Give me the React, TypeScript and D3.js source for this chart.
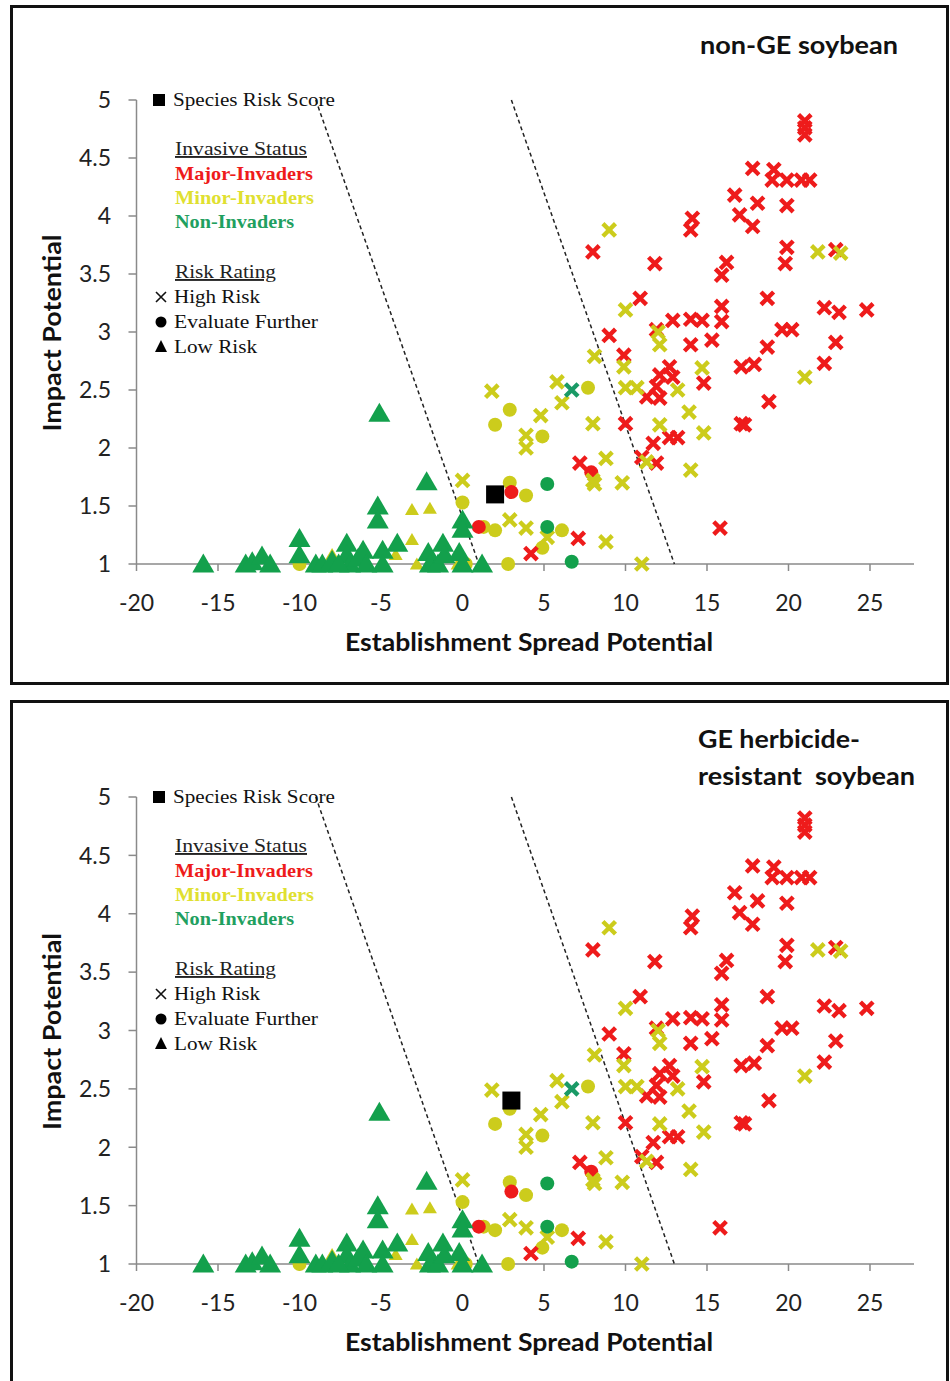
import React from "react";
import * as d3 from "d3";

type Pt = [number, number];

// Major-Invaders, High Risk (red crosses)
const majorHigh: Pt[] = [
  [21, 4.82], [21, 4.76], [21, 4.7], [17.8, 4.41], [19.1, 4.4], [19.0, 4.31], [19.9, 4.31],
  [20.8, 4.31], [21.3, 4.31], [16.7, 4.18], [18.1, 4.11], [19.9, 4.09], [17.0, 4.01],
  [17.8, 3.91], [14.1, 3.98], [14.0, 3.88], [8.0, 3.69], [19.9, 3.73], [19.8, 3.59],
  [22.9, 3.71], [11.8, 3.59], [16.2, 3.6], [15.9, 3.49], [10.9, 3.29], [18.7, 3.29],
  [22.2, 3.21], [23.1, 3.17], [24.8, 3.19], [15.9, 3.22], [15.9, 3.09], [12.9, 3.1],
  [14.0, 3.11], [14.7, 3.1], [11.9, 3.02], [19.6, 3.02], [20.2, 3.02], [9.0, 2.97],
  [14.0, 2.89], [15.3, 2.93], [18.7, 2.87], [22.9, 2.91], [9.9, 2.8], [12.7, 2.7],
  [12.9, 2.61], [12.1, 2.63], [11.9, 2.53], [12.1, 2.43], [11.3, 2.44], [14.8, 2.56],
  [17.1, 2.7], [17.9, 2.72], [22.2, 2.73], [18.8, 2.4], [10.0, 2.21], [17.1, 2.21],
  [17.3, 2.2], [11.0, 1.92], [11.9, 1.87], [11.7, 2.04], [12.7, 2.09], [13.2, 2.09],
  [15.8, 1.31], [7.2, 1.87], [7.1, 1.22], [4.2, 1.09],
];

// Minor-Invaders, High Risk (yellow crosses)
const minorHigh: Pt[] = [
  [9.0, 3.88], [21.8, 3.69], [23.2, 3.68], [10.0, 3.19], [12.0, 3.0], [12.1, 2.89],
  [8.1, 2.79], [9.9, 2.7], [14.7, 2.69], [21.0, 2.61], [10.0, 2.52], [10.7, 2.52],
  [13.2, 2.5], [13.9, 2.31], [8.0, 2.21], [12.1, 2.2], [14.8, 2.13], [14.0, 1.81],
  [11.3, 1.88], [8.8, 1.91], [8.0, 1.72], [8.1, 1.69], [9.8, 1.7], [8.8, 1.19],
  [11.0, 1.0], [6.1, 2.39], [5.8, 2.57], [4.8, 2.28], [3.9, 2.11], [3.9, 2.0],
  [1.8, 2.49], [2.9, 1.38], [3.9, 1.31], [0, 1.72], [5.2, 1.23],
];

// Non-Invaders, High Risk (green crosses)
const nonHigh: Pt[] = [[6.7, 2.5]];

// Evaluate Further (circles)
const majorEval: Pt[] = [[7.9, 1.79], [3.0, 1.62], [1.0, 1.32]];
const minorEval: Pt[] = [
  [7.7, 2.52], [2.9, 2.33], [2.0, 2.2], [4.9, 2.1], [2.9, 1.7], [3.9, 1.59], [0, 1.53],
  [1.3, 1.32], [2.0, 1.29], [6.1, 1.29], [4.9, 1.14], [2.8, 1.0], [-10.0, 1.0], [0.2, 1.0],
];
const nonEval: Pt[] = [[5.2, 1.69], [5.2, 1.32], [6.7, 1.02]];

// Low Risk (triangles)
const minorLow: Pt[] = [
  [-3.1, 1.47], [-2.0, 1.48], [-3.1, 1.21], [-2.8, 1.0], [-8.0, 1.08], [-4.1, 1.08], [-0.3, 1.0],
];
const nonLow: Pt[] = [
  [-15.9, 1.0], [-13.3, 1.0], [-12.9, 1.02], [-12.3, 1.07], [-11.8, 1.0], [-10.0, 1.22],
  [-10.0, 1.08], [-9.0, 1.0], [-8.6, 1.0], [-8.0, 1.03], [-7.1, 1.18], [-7.1, 1.08],
  [-6.9, 1.0], [-7.6, 1.0], [-6.4, 1.05], [-6.1, 1.12], [-5.9, 1.0], [-5.1, 2.3],
  [-5.2, 1.5], [-5.2, 1.38], [-4.9, 1.12], [-4.9, 1.0], [-4.0, 1.18], [-2.2, 1.71],
  [-2.1, 1.1], [-2.0, 1.0], [-1.5, 1.0], [-1.2, 1.18], [-1.1, 1.08], [-0.2, 1.1],
  [0, 1.0], [0, 1.38], [0, 1.3], [1.2, 1.0],
];

const riskScoreTop: Pt = [2, 1.6];
const riskScoreBottom: Pt = [3, 2.4];

// threshold lines
const thresholds: [Pt, Pt][] = [
  [[-9, 5], [1, 1]],
  [[3, 5], [13, 1]],
];

const xTicks = [-20, -15, -10, -5, 0, 5, 10, 15, 20, 25];
const yTicks = [1, 1.5, 2, 2.5, 3, 3.5, 4, 4.5, 5];

const RED = "#ee1b1b";
const YEL = "#cccc1c";
const GRN = "#13a04c";
const AXIS = "#8a8a8a";
const SANS = "Lato, 'Open Sans', sans-serif";
const SERIF = "'Liberation Serif', 'DejaVu Serif', serif";

function Cross({ x, y, color }: { x: number; y: number; color: string }) {
  const s = 6.3;
  return (
    <path
      d={`M${x - s},${y - s}L${x + s},${y + s}M${x - s},${y + s}L${x + s},${y - s}`}
      stroke={color}
      strokeWidth={4.4}
      fill="none"
    />
  );
}

function Tri({ x, y, color, w, h }: { x: number; y: number; color: string; w: number; h: number }) {
  return (
    <path
      d={`M${x},${y - h * 0.55}L${x + w / 2},${y + h * 0.45}L${x - w / 2},${y + h * 0.45}Z`}
      fill={color}
    />
  );
}

function Panel({ y5, y1, risk, title }: { y5: number; y1: number; risk: Pt; title: [string, number][] }) {
  const x = d3.scaleLinear().domain([-20, 27.7]).range([136.5, 914]);
  const y = d3.scaleLinear().domain([1, 5]).range([y1, y5]);
  const line = d3.line<Pt>().x((d) => x(d[0])).y((d) => y(d[1]));
  const lx = 152;
  const ly = y5;
  const stretch = { lengthAdjust: "spacingAndGlyphs" as const };

  return (
    <g>
      {/* axes */}
      <line x1={x(-20)} x2={x(-20)} y1={y(1)} y2={y(5)} stroke={AXIS} strokeWidth={1.5} />
      <line x1={x(-20)} x2={x(27.7)} y1={y(1)} y2={y(1)} stroke={AXIS} strokeWidth={1.5} />
      {yTicks.map((t) => (
        <g key={"y" + t}>
          <line x1={x(-20) - 8} x2={x(-20)} y1={y(t)} y2={y(t)} stroke={AXIS} strokeWidth={1.5} />
          <text x={111} y={y(t)} dy="0.36em" textAnchor="end" fontFamily={SANS} fontSize={23} fill="#222">
            {t}
          </text>
        </g>
      ))}
      {xTicks.map((t) => (
        <g key={"x" + t}>
          <line x1={x(t)} x2={x(t)} y1={y(1)} y2={y(1) + 7} stroke={AXIS} strokeWidth={1.5} />
          <text x={x(t)} y={y(1) + 47} textAnchor="middle" fontFamily={SANS} fontSize={23} fill="#222">
            {t}
          </text>
        </g>
      ))}
      <text
        transform={`translate(61,${(y(1) + y(5)) / 2 + 1}) rotate(-90)`}
        textAnchor="middle"
        fontFamily={SANS}
        fontWeight="bold"
        fontSize={24}
        fill="#111"
        textLength={197}
        {...stretch}
      >
        Impact Potential
      </text>
      <text
        x={345}
        y={y(1) + 87}
        fontFamily={SANS}
        fontWeight="bold"
        fontSize={24}
        fill="#111"
        textLength={368}
        {...stretch}
      >
        Establishment Spread Potential
      </text>

      {/* title */}
      {title.map(([t, len], i) => (
        <text
          key={t}
          x={title.length === 1 ? 700 : 698}
          y={title.length === 1 ? y5 - 46 : y5 - 49 + i * 37}
          fontFamily={SANS}
          fontWeight="bold"
          fontSize={24}
          fill="#111"
          textLength={len}
          {...stretch}
          style={{ whiteSpace: "pre" }}
        >
          {t}
        </text>
      ))}

      {/* threshold lines */}
      {thresholds.map((seg, i) => (
        <path key={i} d={line(seg) || ""} stroke="#222" strokeWidth={1.5} strokeDasharray="4,3" fill="none" />
      ))}

      {/* points */}
      {minorEval.map((d, i) => (
        <circle key={"me" + i} cx={x(d[0])} cy={y(d[1])} r={7} fill={YEL} />
      ))}
      {minorLow.map((d, i) => (
        <Tri key={"ml" + i} x={x(d[0])} y={y(d[1])} color={YEL} w={14} h={12} />
      ))}
      {majorEval.map((d, i) => (
        <circle key={"re" + i} cx={x(d[0])} cy={y(d[1])} r={7} fill={RED} />
      ))}
      {majorHigh.map((d, i) => (
        <Cross key={"rh" + i} x={x(d[0])} y={y(d[1])} color={RED} />
      ))}
      {minorHigh.map((d, i) => (
        <Cross key={"mh" + i} x={x(d[0])} y={y(d[1])} color={YEL} />
      ))}
      {nonEval.map((d, i) => (
        <circle key={"ge" + i} cx={x(d[0])} cy={y(d[1])} r={7} fill={GRN} />
      ))}
      {nonHigh.map((d, i) => (
        <Cross key={"gh" + i} x={x(d[0])} y={y(d[1])} color="#1a9a66" />
      ))}
      {nonLow.map((d, i) => (
        <Tri key={"gl" + i} x={x(d[0])} y={y(d[1])} color={GRN} w={22} h={19} />
      ))}
      <rect x={x(risk[0]) - 9} y={y(risk[1]) - 9} width={18} height={18} fill="#000" />

      {/* legend */}
      <g fontFamily={SERIF} fontSize={19}>
        <rect x={lx + 1} y={ly - 6} width={12} height={12} fill="#000" />
        <text x={lx + 21} y={ly} dy="0.33em" fill="#111" textLength={162} {...stretch}>Species Risk Score</text>
        <text x={lx + 23} y={ly + 55} fill="#222" textDecoration="underline" textLength={132} {...stretch}>Invasive Status</text>
        <text x={lx + 23} y={ly + 80} fill={RED} fontWeight="bold" textLength={138} {...stretch}>Major-Invaders</text>
        <text x={lx + 23} y={ly + 104} fill="#e0e030" fontWeight="bold" textLength={139} {...stretch}>Minor-Invaders</text>
        <text x={lx + 23} y={ly + 128} fill="#1fa060" fontWeight="bold" textLength={119} {...stretch}>Non-Invaders</text>
        <text x={lx + 23} y={ly + 178} fill="#222" textDecoration="underline" textLength={101} {...stretch}>Risk Rating</text>
        <path
          d={`M${lx + 4},${ly + 192}L${lx + 14},${ly + 202}M${lx + 4},${ly + 202}L${lx + 14},${ly + 192}`}
          stroke="#111"
          strokeWidth={1.6}
        />
        <text x={lx + 22} y={ly + 203} fill="#111" textLength={86} {...stretch}>High Risk</text>
        <circle cx={lx + 9} cy={ly + 222} r={5.5} fill="#000" />
        <text x={lx + 22} y={ly + 228} fill="#111" textLength={144} {...stretch}>Evaluate Further</text>
        <path d={`M${lx + 9},${ly + 240}L${lx + 15},${ly + 252}L${lx + 3},${ly + 252}Z`} fill="#000" />
        <text x={lx + 22} y={ly + 253} fill="#111" textLength={83} {...stretch}>Low Risk</text>
      </g>
    </g>
  );
}

export default function App() {
  return (
    <svg
      width={950}
      height={1381}
      viewBox="0 0 950 1381"
      style={{ position: "absolute", left: 0, top: 0, background: "#fff" }}
    >
      <rect x={0} y={0} width={950} height={1381} fill="#fff" />
      <rect x={11.5} y={6.5} width={936} height={677} fill="none" stroke="#111" strokeWidth={3} />
      <rect x={11.5} y={701.5} width={936} height={700} fill="none" stroke="#111" strokeWidth={3} />
      <Panel y5={100} y1={564} risk={riskScoreTop} title={[["non-GE soybean", 198]]} />
      <Panel
        y5={797}
        y1={1264}
        risk={riskScoreBottom}
        title={[
          ["GE herbicide-", 162],
          ["resistant  soybean", 217],
        ]}
      />
    </svg>
  );
}
